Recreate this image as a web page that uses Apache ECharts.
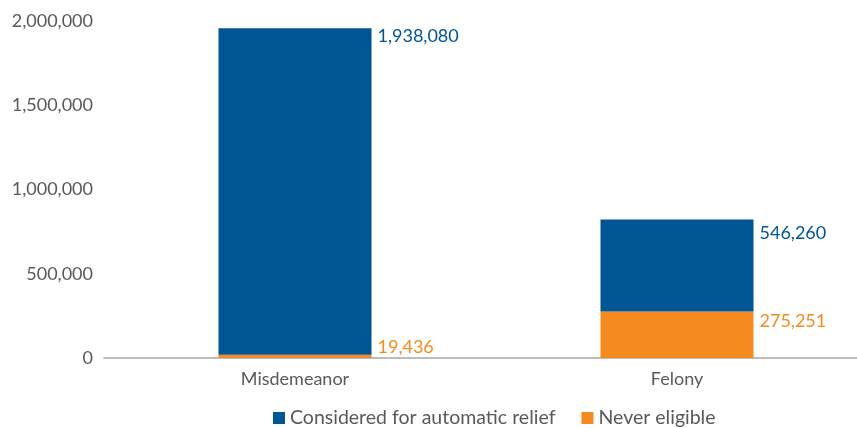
<!DOCTYPE html>
<html>
<head>
<meta charset="utf-8">
<script src="https://cdn.jsdelivr.net/npm/echarts@6/dist/echarts.min.js"></script>
<style>
  html, body { margin: 0; padding: 0; background: #fff; }
  #chart { width: 857px; height: 428px; }
</style>
</head>
<body>
<div id="chart"></div>
<script>
// data
const categories = ['Misdemeanor', 'Felony']
const neverEligible = [19436, 275251]
const consideredRelief = [1938080, 546260]
const seriesNames = ['Considered for automatic relief', 'Never eligible']

const BLUE = '#005594'
const ORANGE = '#f58b1f'
const GRAY = '#595959'
const FONT = 'Lato'

const fmt = v => v.toLocaleString('en-US')

const chart = echarts.init(document.getElementById('chart'))

const labelBase = {
  show: true,
  position: ['100%', 0],
  verticalAlign: 'middle',
  align: 'left',
  fontFamily: FONT,
  fontSize: 18,
  formatter: p => fmt(p.value)
}

chart.setOption({
  animation: false,
  textStyle: { fontFamily: FONT },
  grid: { left: 104, width: 764, top: 21, bottom: 70, outerBoundsMode: 'none', containLabel: false },
  legend: {
    data: seriesNames,
    top: 403,
    left: 268,
    itemWidth: 12,
    itemHeight: 12,
    itemGap: 26,
    icon: 'rect',
    textStyle: { color: GRAY, fontSize: 19.5, fontFamily: FONT }
  },
  xAxis: {
    type: 'category',
    data: categories,
    axisLine: { lineStyle: { color: '#a6a6a6', width: 1.5 } },
    axisTick: { show: false },
    axisLabel: { color: GRAY, fontSize: 18, fontFamily: FONT, margin: 12 }
  },
  yAxis: {
    type: 'value',
    min: 0,
    max: 2000000,
    interval: 500000,
    splitLine: { show: false },
    axisLine: { show: false },
    axisTick: { show: false },
    axisLabel: { color: GRAY, fontSize: 18, fontFamily: FONT, margin: 11, formatter: v => fmt(v) }
  },
  series: [
    {
      name: seriesNames[1],
      type: 'bar',
      stack: 'total',
      barWidth: 153,
      itemStyle: { color: ORANGE },
      label: Object.assign({}, labelBase, { color: ORANGE, offset: [6, 10] }),
      data: neverEligible.map((v, i) => i === 0
        ? { value: v, label: { offset: [6, -8] } }
        : v)
    },
    {
      name: seriesNames[0],
      type: 'bar',
      stack: 'total',
      barWidth: 153,
      itemStyle: { color: BLUE },
      label: Object.assign({}, labelBase, { color: BLUE, offset: [6, 14] }),
      data: consideredRelief.map((v, i) => i === 0
        ? { value: v, label: { offset: [6, 8] } }
        : v)
    }
  ]
})
</script>
</body>
</html>
